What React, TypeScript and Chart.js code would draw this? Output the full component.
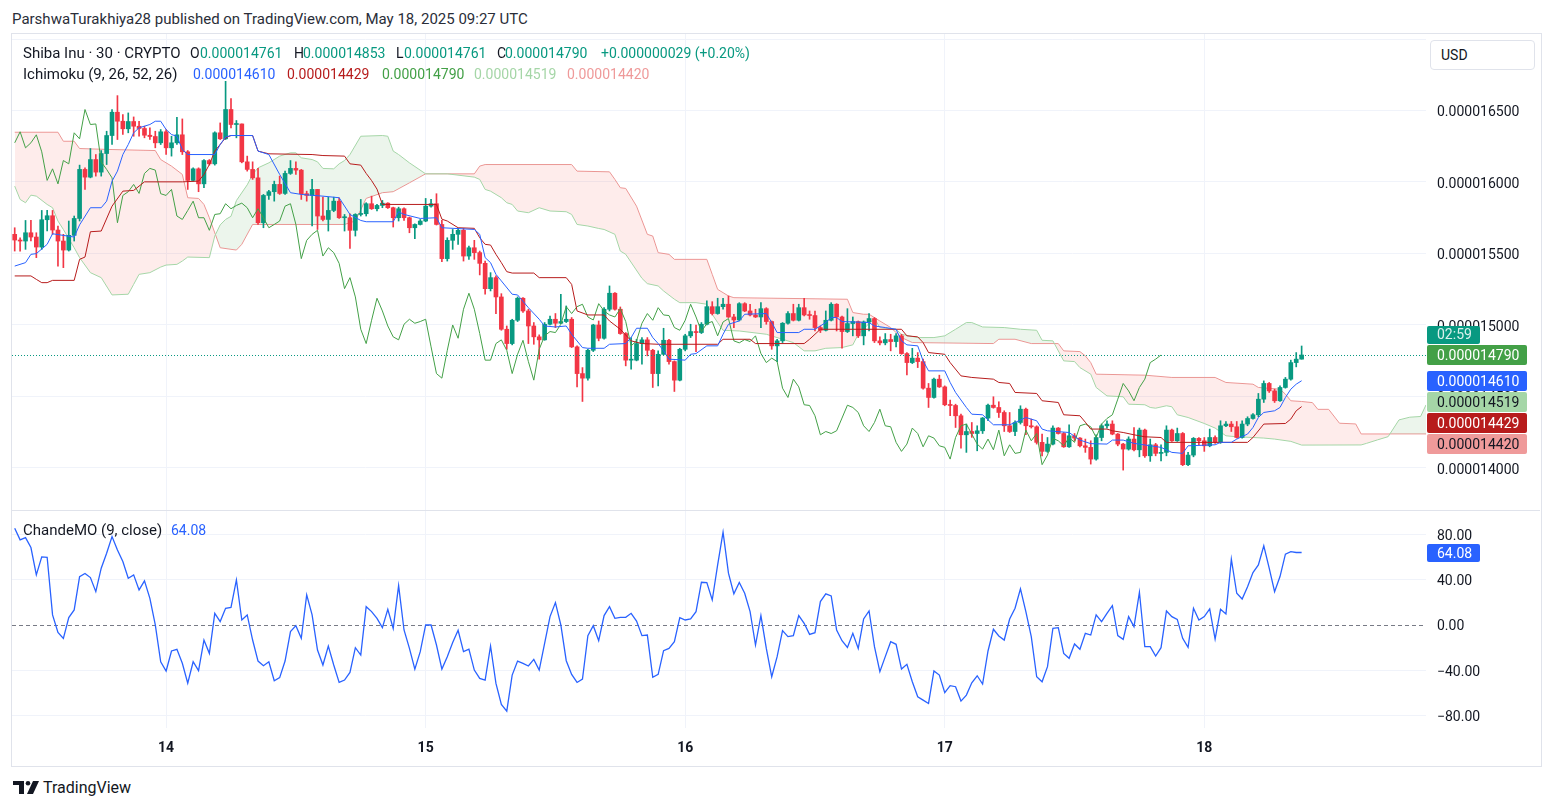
import React, { useEffect, useRef } from "react";
import Chart from "chart.js/auto";

// ---------- DATA (prices in units of 1e-9 USD) ----------
const FIRST_OPEN = 15634;
const CLOSES = [
  15594, 15587, 15645, 15615, 15545, 15736, 15764, 15664, 15587, 15524,
  15627, 15745, 16088, 16034, 16157, 16069, 16199, 16325, 16488, 16425,
  16372, 16423, 16390, 16374, 16327, 16318, 16274, 16351, 16239, 16274,
  16330, 16211, 16011, 16092, 15987, 16150, 16127, 16344, 16302, 16507,
  16402, 16406, 16141, 16088, 16029, 15715, 15906, 15932, 15983, 15920,
  16060, 16095, 16083, 15918, 15906, 15948, 15762, 15738, 15801, 15866,
  15750, 15750, 15662, 15773, 15778, 15848, 15813, 15836, 15852, 15820,
  15750, 15813, 15750, 15680, 15703, 15727, 15831, 15848, 15703, 15464,
  15592, 15634, 15662, 15482, 15540, 15506, 15431, 15254, 15331, 15196,
  14970, 14870, 15033, 15187, 15098, 14993, 14917, 14896, 15005, 15040,
  15012, 15024, 15040, 14847, 14660, 14628, 14823, 15000, 14907, 15110,
  15222, 15110, 14940, 14754, 14754, 14870, 14896, 14823, 14660, 14795,
  14893, 14744, 14614, 14830, 14924, 14954, 14947, 15005, 15128, 15080,
  15128, 15145, 15056, 15035, 15149, 15098, 15070, 15056, 15114, 15024,
  14854, 14889, 15012, 15080, 15033, 15121, 15070, 15066, 14982, 14963,
  15033, 15145, 15056, 14954, 15010, 15024, 14924, 15021, 15045, 14889,
  14875, 14898, 14884, 14924, 14800, 14737, 14768, 14744, 14558, 14493,
  14621, 14567, 14442, 14437, 14365, 14232, 14255, 14241, 14260, 14349,
  14439, 14423, 14388, 14295, 14255, 14318, 14411, 14295, 14288, 14179,
  14116, 14167, 14279, 14241, 14148, 14225, 14209, 14155, 14144, 14062,
  14213, 14295, 14307, 14237, 14167, 14132, 14202, 14127, 14265, 14085,
  14162, 14102, 14109, 14265, 14190, 14241, 14023, 14090, 14207, 14190,
  14155, 14213, 14179, 14295, 14307, 14288, 14213, 14307, 14346, 14372,
  14481, 14591, 14539, 14470, 14563, 14621, 14737, 14761, 14790,
];
const HIGHS = [
  15680, 15610, 15731, 15731, 15645, 15801, 15801, 15801, 15692, 15634,
  15727, 15762, 16118, 16099, 16234, 16192, 16220, 16355, 16507, 16604,
  16472, 16483, 16455, 16425, 16390, 16379, 16355, 16367, 16367, 16320,
  16453, 16441, 16220, 16099, 16099, 16157, 16157, 16351, 16413, 16704,
  16583, 16430, 16406, 16181, 16141, 16095, 15913, 15941, 16006, 16041,
  16076, 16150, 16141, 16088, 15936, 16018, 15948, 15894, 15894, 15894,
  15890, 15773, 15778, 15778, 15878, 15855, 15901, 15843, 15871, 15855,
  15824, 15824, 15820, 15755, 15708, 15738, 15885, 15878, 15918, 15731,
  15610, 15668, 15676, 15676, 15552, 15592, 15517, 15447, 15366, 15343,
  15219, 14993, 15040, 15196, 15191, 15110, 15017, 14931, 15017, 15063,
  15080, 15215, 15133, 15052, 14854, 14702, 14830, 15005, 15028, 15121,
  15273, 15226, 15126, 14947, 14912, 14900, 14912, 14912, 14830, 14819,
  14977, 14900, 14749, 14837, 14935, 15005, 15000, 15017, 15168, 15163,
  15187, 15187, 15203, 15075, 15156, 15156, 15145, 15110, 15156, 15121,
  15028, 14900, 15017, 15093, 15145, 15145, 15187, 15098, 15098, 14993,
  15098, 15156, 15149, 15063, 15114, 15056, 15028, 15028, 15080, 15052,
  14917, 14940, 14935, 14940, 14935, 14807, 14837, 14807, 14761, 14591,
  14628, 14649, 14574, 14474, 14446, 14376, 14307, 14318, 14295, 14353,
  14446, 14498, 14463, 14400, 14388, 14330, 14435, 14418, 14342, 14295,
  14237, 14213, 14295, 14283, 14248, 14302, 14241, 14213, 14202, 14190,
  14232, 14307, 14330, 14330, 14241, 14172, 14218, 14283, 14279, 14272,
  14202, 14172, 14162, 14295, 14272, 14279, 14248, 14109, 14213, 14213,
  14213, 14272, 14225, 14330, 14325, 14325, 14325, 14330, 14358, 14381,
  14521, 14609, 14598, 14551, 14574, 14633, 14754, 14807, 14853,
];
const LOWS = [
  15517, 15517, 15529, 15587, 15471, 15529, 15657, 15634, 15412, 15401,
  15517, 15587, 15727, 15948, 16029, 16041, 16041, 16122, 16262, 16297,
  16332, 16344, 16320, 16320, 16309, 16297, 16239, 16262, 16192, 16181,
  16262, 16192, 15948, 16006, 15932, 15960, 16118, 16118, 16297, 16297,
  16379, 16309, 16134, 16076, 16018, 15703, 15680, 15878, 15866, 15913,
  15913, 16053, 16053, 15878, 15866, 15692, 15668, 15727, 15657, 15792,
  15745, 15657, 15536, 15622, 15762, 15762, 15808, 15797, 15820, 15815,
  15685, 15727, 15731, 15645, 15603, 15699, 15722, 15824, 15699, 15443,
  15447, 15529, 15564, 15447, 15459, 15459, 15350, 15215, 15238, 15079,
  14963, 14830, 14861, 15024, 15087, 14870, 14865, 14761, 14893, 15000,
  14982, 15010, 15017, 14842, 14567, 14465, 14614, 14814, 14889, 14900,
  15098, 15103, 14935, 14714, 14691, 14749, 14726, 14784, 14563, 14574,
  14791, 14726, 14535, 14609, 14819, 14912, 14814, 14940, 15000, 15070,
  15075, 15110, 15052, 14982, 15028, 15093, 15063, 15052, 14982, 15005,
  14830, 14744, 14877, 15005, 15028, 15028, 15063, 15040, 14958, 14947,
  14958, 15028, 14958, 14837, 14947, 14924, 14912, 14861, 14958, 14877,
  14861, 14861, 14819, 14847, 14795, 14651, 14730, 14702, 14551, 14423,
  14488, 14563, 14435, 14365, 14283, 14139, 14109, 14214, 14120, 14241,
  14330, 14418, 14353, 14255, 14248, 14225, 14307, 14232, 14279, 14167,
  14085, 14109, 14162, 14237, 14144, 14144, 14190, 14148, 14109, 14027,
  14055, 14190, 14279, 14232, 14155, 13985, 14125, 14120, 14078, 14074,
  14046, 14085, 14050, 14085, 14186, 14186, 14016, 14016, 14078, 14162,
  14116, 14148, 14172, 14172, 14288, 14255, 14209, 14209, 14295, 14342,
  14358, 14458, 14528, 14458, 14465, 14558, 14614, 14707, 14761,
];
const OPENS = [FIRST_OPEN, ...CLOSES.slice(0, -1)];

// Ichimoku lines: [bar index, value]
const CONVERSION: [number, number][] = [
  [0, 15412], [2, 15436], [3, 15494], [4, 15499], [6, 15564], [7, 15638], [11, 15615], [12, 15700],
  [14, 15820], [16, 15820], [17, 15866], [18, 16006], [19, 16076], [20, 16192], [21, 16262], [22, 16344],
  [23, 16379], [25, 16402], [26, 16425], [27, 16425], [28, 16367], [29, 16332], [30, 16320], [31, 16227],
  [32, 16192], [37, 16192], [38, 16262], [39, 16315], [40, 16325], [44, 16325], [45, 16216], [47, 16192],
  [49, 16053], [51, 15925], [53, 15913], [57, 15901], [60, 15890], [62, 15773], [64, 15731], [65, 15722],
  [70, 15722], [71, 15792], [72, 15773], [75, 15745], [78, 15750], [79, 15680], [85, 15668], [86, 15634],
  [87, 15471], [88, 15436], [89, 15354], [90, 15308], [92, 15215], [93, 15210], [95, 15121], [97, 15040],
  [98, 14993], [100, 14986], [102, 14993], [103, 14935], [105, 14842], [106, 14837], [109, 14837], [110, 14865],
  [113, 14870], [114, 14912], [115, 14977], [117, 14977], [118, 14912], [119, 14870], [120, 14819], [121, 14761],
  [124, 14754], [125, 14795], [126, 14800], [128, 14854], [130, 14854], [131, 14935], [132, 15005], [134, 15028],
  [135, 15075], [139, 15080], [140, 15017], [141, 14947], [145, 14947], [146, 14970], [148, 14970], [150, 15017],
  [151, 15052], [152, 15052], [153, 15024], [158, 15017], [159, 14993], [161, 14982], [163, 14970], [164, 14889],
  [165, 14861], [167, 14854], [168, 14749], [169, 14679], [172, 14679], [173, 14598], [174, 14528], [176, 14423],
  [177, 14376], [179, 14372], [181, 14302], [184, 14302], [185, 14318], [187, 14353], [189, 14330], [190, 14272],
  [191, 14260], [195, 14248], [197, 14195], [199, 14170], [202, 14167], [203, 14195], [205, 14195], [207, 14172],
  [212, 14144], [214, 14109], [216, 14102], [217, 14155], [222, 14162], [223, 14179], [225, 14179], [226, 14202],
  [228, 14237], [229, 14283], [230, 14353], [231, 14388], [233, 14400], [234, 14423], [235, 14493], [236, 14551],
  [237, 14586], [238, 14610],
];
const BASE: [number, number][] = [
  [0, 15343], [3, 15343], [4, 15319], [5, 15296], [6, 15296], [7, 15312], [11, 15312], [12, 15459],
  [13, 15475], [14, 15652], [16, 15657], [18, 15831], [20, 15936], [22, 15941], [24, 16001], [31, 16001],
  [34, 16006], [35, 16053], [36, 16122], [37, 16216], [39, 16309], [40, 16325], [44, 16325], [45, 16216],
  [47, 16197], [55, 16192], [57, 16185], [61, 16181], [62, 16127], [64, 16118], [65, 16060], [66, 16010],
  [67, 15950], [68, 15843], [78, 15843], [79, 15740], [80, 15727], [82, 15680], [85, 15676], [86, 15610],
  [87, 15564], [88, 15559], [89, 15494], [90, 15436], [91, 15373], [92, 15363], [96, 15363], [97, 15331],
  [102, 15331], [103, 15284], [104, 15098], [106, 15070], [109, 15070], [110, 15028], [112, 14970], [114, 14889],
  [116, 14870], [119, 14865], [130, 14865], [131, 14900], [136, 14900], [137, 14870], [146, 14870], [147, 14900],
  [149, 14970], [164, 14970], [165, 14924], [167, 14917], [168, 14877], [169, 14807], [172, 14795], [173, 14737],
  [175, 14644], [177, 14633], [181, 14621], [182, 14598], [184, 14591], [185, 14528], [189, 14521], [190, 14470],
  [193, 14458], [194, 14372], [197, 14365], [198, 14320], [199, 14272], [202, 14272], [203, 14260], [205, 14248],
  [207, 14232], [209, 14218], [212, 14213], [213, 14179], [228, 14179], [229, 14213], [231, 14307], [235, 14311],
  [236, 14342], [237, 14400], [238, 14429],
];
const SPAN_A: [number, number][] = [
  [0, 15971], [1, 15878], [2, 15855], [3, 15908], [4, 15901], [6, 15843], [7, 15820], [8, 15727],
  [9, 15668], [11, 15540], [12, 15471], [14, 15366], [16, 15331], [18, 15210], [21, 15215], [22, 15284],
  [23, 15354], [25, 15366], [27, 15405], [28, 15419], [30, 15424], [31, 15447], [32, 15475], [36, 15471],
  [37, 15622], [38, 15700], [39, 15738], [40, 15760], [41, 15870], [43, 15980], [44, 16053], [45, 16099],
  [47, 16134], [49, 16181], [51, 16204], [52, 16204], [53, 16169], [55, 16157], [56, 16141], [57, 16095],
  [59, 16092], [60, 16127], [61, 16150], [62, 16192], [64, 16320], [68, 16325], [69, 16320], [70, 16216],
  [71, 16192], [73, 16134], [76, 16057], [80, 16057], [85, 16034], [86, 16018], [87, 15948], [88, 15936],
  [90, 15890], [91, 15855], [92, 15843], [93, 15797], [95, 15785], [97, 15820], [99, 15797], [102, 15792],
  [103, 15773], [104, 15703], [106, 15692], [108, 15675], [109, 15668], [111, 15634], [112, 15517], [113, 15494],
  [116, 15326], [117, 15289], [119, 15273], [120, 15238], [122, 15180], [123, 15156], [126, 15156], [128, 15145],
  [129, 15075], [130, 15017], [131, 14963], [134, 14958], [139, 14935], [142, 14900], [144, 14877], [146, 14819],
  [148, 14819], [150, 14837], [153, 14842], [155, 14861], [156, 14935], [158, 15010], [159, 15045], [160, 14982],
  [163, 14970], [164, 14935], [167, 14912], [170, 14912], [172, 14924], [174, 14970], [176, 15017], [177, 15017],
  [179, 14986], [183, 14982], [186, 14970], [189, 14963], [190, 14893], [192, 14889], [194, 14749], [196, 14744],
  [197, 14702], [199, 14656], [200, 14563], [202, 14504], [205, 14498], [206, 14446], [209, 14442], [210, 14423],
  [211, 14418], [213, 14435], [214, 14428], [215, 14372], [217, 14353], [220, 14311], [222, 14279], [224, 14225],
  [226, 14218], [229, 14213], [231, 14209], [233, 14202], [236, 14186], [238, 14160], [249, 14161], [250, 14172],
  [252, 14196], [254, 14219], [256, 14336], [258, 14355], [260, 14360], [261, 14441],
];
const SPAN_B: [number, number][] = [
  [0, 16348], [8, 16348], [9, 16285], [11, 16285], [12, 16234], [18, 16227], [26, 16220], [27, 16157],
  [29, 16111], [31, 16053], [32, 15890], [34, 15885], [35, 15843], [36, 15750], [38, 15540], [40, 15529],
  [41, 15524], [42, 15564], [44, 15703], [61, 15703], [63, 15727], [65, 15885], [68, 15925], [70, 15932],
  [73, 15994], [76, 16057], [85, 16057], [86, 16111], [87, 16122], [103, 16122], [104, 16076], [110, 16071],
  [111, 16018], [112, 15960], [113, 15955], [115, 15831], [117, 15634], [118, 15622], [119, 15506], [121, 15494],
  [122, 15459], [128, 15459], [129, 15354], [130, 15249], [132, 15203], [133, 15191], [154, 15180], [155, 15087],
  [157, 15075], [158, 15075], [160, 15028], [162, 14982], [164, 14912], [166, 14877], [181, 14870], [182, 14900],
  [185, 14900], [188, 14870], [193, 14870], [194, 14819], [197, 14814], [198, 14784], [199, 14737], [200, 14656],
  [209, 14649], [214, 14633], [222, 14633], [224, 14598], [229, 14586], [230, 14563], [234, 14551], [235, 14516],
  [236, 14470], [238, 14465], [240, 14457], [241, 14410], [243, 14410], [245, 14313], [248, 14308], [249, 14238],
  [261, 14238],
];
const LAG_SHIFT = 26;

// Chande Momentum Oscillator (9, close), one value per bar
const CMO = [
  85.6, 75.3, 77.3, 68.5, 44.3, 60.2, 59.9, 8.9, -6.5, -11.8,
  6.5, 13.3, 42.8, 45.5, 41.9, 29.5, 50.2, 63.5, 78.2, 66.4,
  56.1, 41.3, 44.3, 31.0, 39.0, 23.6, 0, -32.5, -40.7, -23.0,
  -21.5, -33.9, -51.4, -32.5, -40.4, -13.3, -25.1, 10.3, 3.0, 14.8,
  15.6, 39.9, 4.4, 8.9, -13.3, -31.9, -36.0, -32.5, -49.3, -46.6,
  -31.9, -5.9, -0.6, -11.8, 26.6, 8.9, -22.1, -35.4, -18.6, -35.4,
  -50.8, -48.7, -41.9, -20.1, -26.6, 16.2, 11.8, 5.9, -2.4, 13.9,
  -3.0, 34.8, -4.4, -20.7, -39.0, -23.6, 0, 0, -17.7, -39.0,
  -28.0, -15.4, -4.7, -23.6, -21.3, -39.9, -47.2, -48.7, -18.6, -51.7,
  -70.3, -76.2, -44.3, -31.9, -33.9, -36.3, -30.4, -39.9, -16.2, 7.4,
  19.8, 0, -31.6, -43.7, -50.8, -47.8, -9.4, -0.6, -13.9, 8.3,
  16.2, 5.9, 6.8, 6.8, 10.3, 3.5, -9.4, -8.9, -46.3, -43.7,
  -22.7, -20.7, -14.8, 6.5, 4.4, 5.3, 11.8, 37.8, 37.5, 22.1,
  53.1, 82.1, 45.8, 27.5, 37.5, 28.0, 11.8, -17.7, 8.3, -20.7,
  -45.8, -28.0, -5.0, -10.3, -9.4, 8.3, 1.5, -8.3, -6.8, 20.7,
  27.5, 25.7, -4.4, -13.9, -19.8, -7.4, -20.7, 5.3, 12.4, -19.2,
  -41.3, -28.0, -14.8, -17.1, -39.0, -34.8, -50.2, -63.5, -66.4, -69.4,
  -40.7, -44.3, -59.9, -53.7, -54.6, -67.3, -62.0, -51.1, -44.9, -52.2,
  -23.0, -3.8, -9.7, -13.3, 5.3, 14.8, 31.9, 11.8, -10.3, -45.8,
  -50.2, -36.9, -3.0, -2.4, -25.1, -29.5, -16.8, -21.5, -7.4, -8.9,
  8.9, 3.0, 10.3, 17.1, -9.4, -12.7, 7.4, -1.5, 28.9, -19.2,
  -19.2, -27.5, -20.1, 12.4, 7.4, 5.0, -11.8, -19.8, 14.8, 4.4,
  7.4, 14.2, -12.4, 13.9, 9.7, 58.2, 28.0, 23.0, 33.9, 46.3,
  53.1, 70.0, 50.2, 29.5, 42.8, 62.6, 64.9, 64.1, 64.08,
];

const DAY_TICKS = [28, 76, 124, 172, 220];
const DAY_LABELS = ["14", "15", "16", "17", "18"];
const PRICE_TICKS = [14000, 14500, 15000, 15500, 16000, 16500, 17000];
const PRICE_LABEL_MAX = 16500;
const CMO_TICKS = [-80, -40, 0, 40, 80];

const LAST_CLOSE = 14790;
const COUNTDOWN = "02:59";
const AXIS_LABELS = [
  { value: 14790, bg: "#43A047", fg: "#FFFFFF" },
  { value: 14610, bg: "#2962FF", fg: "#FFFFFF" },
  { value: 14519, bg: "#A5D6A7", fg: "#131722" },
  { value: 14429, bg: "#B71C1C", fg: "#FFFFFF" },
  { value: 14420, bg: "#EF9A9A", fg: "#131722" },
];
const CMO_LAST = 64.08;

const HEADER = "ParshwaTurakhiya28 published on TradingView.com, May 18, 2025 09:27 UTC";
const OHLC_LEGEND = [
  { x: 23, text: "Shiba Inu · 30 · CRYPTO", c: "#131722", s: 15 },
  { x: 190, text: "O", c: "#131722", s: 14 },
  { x: 200, text: "0.000014761", c: "#089981", s: 14 },
  { x: 294, text: "H", c: "#131722", s: 14 },
  { x: 303, text: "0.000014853", c: "#089981", s: 14 },
  { x: 396, text: "L", c: "#131722", s: 14 },
  { x: 404, text: "0.000014761", c: "#089981", s: 14 },
  { x: 497, text: "C", c: "#131722", s: 14 },
  { x: 505, text: "0.000014790", c: "#089981", s: 14 },
  { x: 601, text: "+0.000000029 (+0.20%)", c: "#089981", s: 14 },
];
const ICHI_LEGEND = [
  { x: 23, text: "Ichimoku (9, 26, 52, 26)", c: "#131722", s: 15 },
  { x: 193, text: "0.000014610", c: "#2962FF", s: 14 },
  { x: 287, text: "0.000014429", c: "#B71C1C", s: 14 },
  { x: 382, text: "0.000014790", c: "#43A047", s: 14 },
  { x: 474, text: "0.000014519", c: "#A5D6A7", s: 14 },
  { x: 567, text: "0.000014420", c: "#EF9A9A", s: 14 },
];

// ---------- STYLE ----------
const UP = "#089981";
const DOWN = "#F23645";
const GRID = "#F0F3FA";
const TEXT = "#131722";
const FONT = "Roboto, 'Noto Sans', sans-serif";
const X_MIN = -0.5;
const X_MAX = 261;
const PRICE_MIN = 13706;
const PRICE_MAX = 17035;
const CMO_MIN = -91.1;
const CMO_MAX = 100.8;
const AXIS_W = 114;

const fmtPrice = (v: number) => (v / 1e9).toFixed(9);
const toXY = (arr: [number, number][]) => arr.map(([x, y]) => ({ x, y }));

function roundRect(ctx: CanvasRenderingContext2D, x: number, y: number, w: number, h: number, r: number) {
  ctx.beginPath();
  ctx.moveTo(x + r, y);
  ctx.lineTo(x + w - r, y);
  ctx.quadraticCurveTo(x + w, y, x + w, y + r);
  ctx.lineTo(x + w, y + h - r);
  ctx.quadraticCurveTo(x + w, y + h, x + w - r, y + h);
  ctx.lineTo(x + r, y + h);
  ctx.quadraticCurveTo(x, y + h, x, y + h - r);
  ctx.lineTo(x, y + r);
  ctx.quadraticCurveTo(x, y, x + r, y);
  ctx.closePath();
}

const mainOverlay = {
  id: "mainOverlay",
  afterDatasetsDraw(chart: any) {
    const { ctx, chartArea, scales } = chart;
    const py = Math.round(scales.y.getPixelForValue(LAST_CLOSE)) + 0.5;
    ctx.save();
    ctx.strokeStyle = UP;
    ctx.lineWidth = 1;
    ctx.setLineDash([1, 2]);
    ctx.beginPath();
    ctx.moveTo(chartArea.left, py);
    ctx.lineTo(chartArea.right, py);
    ctx.stroke();
    ctx.restore();
  },
  afterDraw(chart: any) {
    const { ctx, chartArea, scales } = chart;
    const x0 = chartArea.right + 1;
    const h = 20;
    let prevBottom = -Infinity;
    ctx.save();
    ctx.font = `14px ${FONT}`;
    ctx.textBaseline = "middle";
    AXIS_LABELS.forEach((lab, i) => {
      const c = scales.y.getPixelForValue(lab.value);
      const top = Math.max(Math.round(c - h / 2), prevBottom + 1);
      if (i === 0) {
        ctx.fillStyle = UP;
        roundRect(ctx, x0, top - 19, 53, 18, 2);
        ctx.fill();
        ctx.fillStyle = "rgba(255,255,255,0.85)";
        ctx.fillText(COUNTDOWN, x0 + 10, top - 9.5);
      }
      ctx.fillStyle = lab.bg;
      roundRect(ctx, x0, top, 100, h, 2);
      ctx.fill();
      ctx.fillStyle = lab.fg;
      ctx.fillText(fmtPrice(lab.value), x0 + 10, top + h / 2 + 1);
      prevBottom = top + h;
    });
    ctx.restore();
  },
};

const cmoOverlay = {
  id: "cmoOverlay",
  beforeDatasetsDraw(chart: any) {
    const { ctx, chartArea, scales } = chart;
    const py = Math.round(scales.y.getPixelForValue(0)) + 0.5;
    ctx.save();
    ctx.strokeStyle = "#787B86";
    ctx.lineWidth = 1;
    ctx.setLineDash([4, 3]);
    ctx.beginPath();
    ctx.moveTo(chartArea.left, py);
    ctx.lineTo(chartArea.right, py);
    ctx.stroke();
    ctx.restore();
  },
  afterDraw(chart: any) {
    const { ctx, chartArea, scales } = chart;
    const c = scales.y.getPixelForValue(CMO_LAST);
    const x0 = chartArea.right + 1;
    ctx.save();
    ctx.fillStyle = "#2962FF";
    roundRect(ctx, x0, Math.round(c - 9), 53, 18, 2);
    ctx.fill();
    ctx.fillStyle = "#FFFFFF";
    ctx.font = `14px ${FONT}`;
    ctx.textBaseline = "middle";
    ctx.fillText(CMO_LAST.toFixed(2), x0 + 10, Math.round(c) + 1);
    ctx.restore();
  },
};

function buildMain(canvas: HTMLCanvasElement) {
  const idx = CLOSES.map((_, i) => i);
  const colors = idx.map((i) => (CLOSES[i] >= OPENS[i] ? UP : DOWN));
  const lagging = CLOSES.slice(LAG_SHIFT).map((v, i) => ({ x: i, y: v }));
  const line = (data: any, color: string, order: number, extra: any = {}) => ({
    type: "line",
    data,
    borderColor: color,
    borderWidth: 1,
    pointRadius: 0,
    tension: 0,
    fill: false,
    order,
    ...extra,
  });
  return new Chart(canvas, {
    type: "line",
    data: {
      datasets: [
        line(toXY(SPAN_A), "#A5D6A7", 20, {
          fill: { target: 1, above: "rgba(67,160,71,0.1)", below: "rgba(244,67,54,0.1)" },
        }),
        line(toXY(SPAN_B), "#EF9A9A", 21),
        {
          type: "bar",
          data: idx.map((i) => ({ x: i, y: [LOWS[i], HIGHS[i]] })),
          backgroundColor: colors,
          borderWidth: 0,
          barThickness: 1,
          grouped: false,
          order: 11,
        },
        {
          type: "bar",
          data: idx.map((i) => ({ x: i, y: [OPENS[i], CLOSES[i]] })),
          backgroundColor: colors,
          borderWidth: 0,
          barThickness: 4,
          minBarLength: 1,
          grouped: false,
          order: 10,
        },
        line(lagging, "#43A047", 2),
        line(toXY(BASE), "#B71C1C", 1),
        line(toXY(CONVERSION), "#2962FF", 0),
      ] as any,
    },
    options: {
      animation: false,
      responsive: false,
      layout: { padding: 0 },
      events: [],
      plugins: { legend: { display: false }, tooltip: { enabled: false } },
      scales: {
        x: {
          type: "linear",
          min: X_MIN,
          max: X_MAX,
          offset: false,
          grid: { color: GRID, drawTicks: false, offset: false },
          border: { display: false },
          ticks: { display: false },
          afterBuildTicks: (s: any) => {
            s.ticks = DAY_TICKS.map((v) => ({ value: v }));
          },
          afterFit: (s: any) => {
            s.height = 0;
          },
        },
        y: {
          position: "right",
          min: PRICE_MIN,
          max: PRICE_MAX,
          grid: { color: GRID, drawTicks: false },
          border: { display: false },
          ticks: {
            padding: 11,
            labelOffset: 2.5,
            color: TEXT,
            font: { family: FONT, size: 14 },
            callback: (v: any) => (v > PRICE_LABEL_MAX ? "" : fmtPrice(v)),
          },
          afterBuildTicks: (s: any) => {
            s.ticks = PRICE_TICKS.map((v) => ({ value: v }));
          },
          afterFit: (s: any) => {
            s.width = AXIS_W;
            s.paddingTop = 0;
            s.paddingBottom = 0;
          },
        },
      },
    } as any,
    plugins: [mainOverlay],
  });
}

function buildCmo(canvas: HTMLCanvasElement) {
  return new Chart(canvas, {
    type: "line",
    data: {
      datasets: [
        {
          data: CMO.map((v, i) => ({ x: i, y: v })),
          borderColor: "#2962FF",
          borderWidth: 1.3,
          pointRadius: 0,
          tension: 0,
          fill: false,
        },
      ],
    },
    options: {
      animation: false,
      responsive: false,
      layout: { padding: 0 },
      events: [],
      plugins: { legend: { display: false }, tooltip: { enabled: false } },
      scales: {
        x: {
          type: "linear",
          min: X_MIN,
          max: X_MAX,
          offset: false,
          grid: { color: GRID, drawTicks: false, offset: false },
          border: { display: false },
          ticks: {
            padding: 12,
            color: TEXT,
            maxRotation: 0,
            autoSkip: false,
            font: { family: FONT, size: 14, weight: "bold" },
            callback: (v: any) => {
              const i = DAY_TICKS.indexOf(v);
              return i >= 0 ? DAY_LABELS[i] : "";
            },
          },
          afterBuildTicks: (s: any) => {
            s.ticks = DAY_TICKS.map((v) => ({ value: v }));
          },
          afterFit: (s: any) => {
            s.height = 37;
            s.paddingLeft = 0;
            s.paddingRight = 0;
          },
        },
        y: {
          position: "right",
          min: CMO_MIN,
          max: CMO_MAX,
          grid: { color: (c: any) => (c.tick && c.tick.value === 0 ? "rgba(0,0,0,0)" : GRID), drawTicks: false },
          border: { display: false },
          ticks: {
            padding: 11,
            labelOffset: 2,
            color: TEXT,
            font: { family: FONT, size: 14 },
            callback: (v: any) => (v < 0 ? "\u2212" + Math.abs(v).toFixed(2) : Number(v).toFixed(2)),
          },
          afterBuildTicks: (s: any) => {
            s.ticks = CMO_TICKS.map((v) => ({ value: v }));
          },
          afterFit: (s: any) => {
            s.width = AXIS_W;
            s.paddingTop = 0;
            s.paddingBottom = 0;
          },
        },
      },
    } as any,
    plugins: [cmoOverlay],
  });
}

const abs = (left: number, top: number, extra: React.CSSProperties = {}): React.CSSProperties => ({
  position: "absolute",
  left,
  top,
  whiteSpace: "nowrap",
  ...extra,
});

export default function App() {
  const mainRef = useRef<HTMLCanvasElement>(null);
  const cmoRef = useRef<HTMLCanvasElement>(null);

  useEffect(() => {
    document.body.style.margin = "0";
    const a = buildMain(mainRef.current!);
    const b = buildCmo(cmoRef.current!);
    return () => {
      a.destroy();
      b.destroy();
    };
  }, []);

  const legendFont: React.CSSProperties = { fontFamily: FONT, lineHeight: "18px" };

  return (
    <div style={{ position: "absolute", left: 0, top: 0, width: 1554, height: 809, background: "#fff", overflow: "hidden", fontFamily: FONT, color: TEXT }}>
      <div style={abs(12, 10, { fontSize: 15, lineHeight: "18px", color: "#2A2E39" })}>{HEADER}</div>

      {/* chart frame */}
      <div style={abs(11, 33, { width: 1529, height: 732, border: "1px solid #E0E3EB", boxSizing: "content-box" })} />
      <div style={abs(12, 510, { width: 1528, height: 1, background: "#E0E3EB" })} />

      <canvas ref={mainRef} width={1528} height={476} style={{ position: "absolute", left: 12, top: 34, width: 1528, height: 476 }} />
      <canvas ref={cmoRef} width={1528} height={254} style={{ position: "absolute", left: 12, top: 511, width: 1528, height: 254 }} />

      {OHLC_LEGEND.map((p, i) => (
        <div key={"o" + i} style={abs(p.x, 44, { ...legendFont, fontSize: p.s, color: p.c })}>{p.text}</div>
      ))}
      {ICHI_LEGEND.map((p, i) => (
        <div key={"i" + i} style={abs(p.x, 65, { ...legendFont, fontSize: p.s, color: p.c })}>{p.text}</div>
      ))}
      <div style={abs(23, 521, { ...legendFont, fontSize: 15 })}>ChandeMO (9, close)</div>
      <div style={abs(171, 521, { ...legendFont, fontSize: 14, color: "#2962FF" })}>{CMO_LAST.toFixed(2)}</div>

      <div style={abs(1430, 40, { width: 105, height: 30, border: "1px solid #E0E3EB", borderRadius: 4, background: "#fff", fontSize: 14, lineHeight: "28px", paddingLeft: 10, boxSizing: "border-box" })}>USD</div>

      {/* TradingView logo */}
      <svg style={abs(13, 781)} width={27} height={14} viewBox="0 0 27 14">
        <path d="M0 0H11V13H6V4H0Z" fill="#131722" />
        <circle cx="15" cy="2.3" r="2.3" fill="#131722" />
        <path d="M20 0H26L20 13H14Z" fill="#131722" />
      </svg>
      <div style={abs(43, 778, { fontSize: 16, lineHeight: "20px", color: "#131722" })}>TradingView</div>
    </div>
  );
}
